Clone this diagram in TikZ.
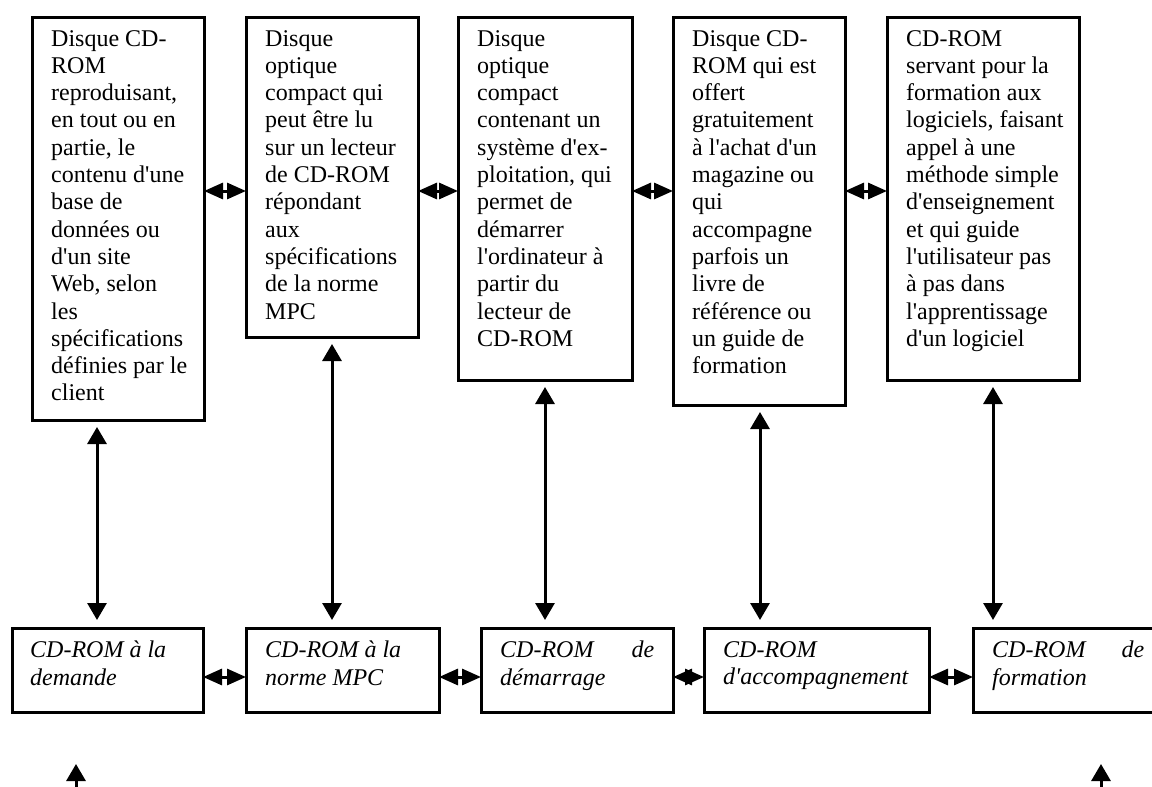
\documentclass[tikz,border=0pt]{standalone}
\usepackage{fontspec}
\setmainfont{Liberation Serif}
\usetikzlibrary{arrows.meta}
\newcommand\q{\textquotesingle}
\begin{document}
\begin{tikzpicture}[x=1pt,y=-1pt,
  panel/.style={draw, line width=3pt, anchor=north west, inner sep=0pt, outer sep=0pt},
  desc/.style={anchor=north west, align=left, inner sep=0pt,
    font=\fontsize{24}{27.3}\selectfont, execute at begin node=\strut},
  term/.style={desc, font=\fontsize{24}{27.3}\selectfont\itshape},
  vlink/.style={line width=3pt,
    {Triangle[length=17pt,width=19pt]}-{Triangle[length=17pt,width=19pt]},
    shorten <=7pt, shorten >=8pt},
  hlink/.style={line width=3pt,
    {Triangle[length=19pt,width=16pt]}-{Triangle[length=19pt,width=16pt]}},
  htip/.style={line width=3pt, -{Triangle[length=19pt,width=16pt]}},
  uplink/.style={line width=3pt, -{Triangle[length=17pt,width=19pt]}}
]
\useasboundingbox (0,0) rectangle (1152,787);
\clip (0,0) rectangle (1152,787);
\fill[white] (0,0) rectangle (1152,787);

% definitions (upper row)
\node[panel, minimum width=172, minimum height=403] (d1) at (32,17) {};
\node[panel, minimum width=172, minimum height=320] (d2) at (246,17) {};
\node[panel, minimum width=174, minimum height=363] (d3) at (458,17) {};
\node[panel, minimum width=172, minimum height=388] (d4) at (673,17) {};
\node[panel, minimum width=192, minimum height=363] (d5) at (887,17) {};

\node[desc] (d1t) at ([shift={(19,13)}]d1.north west)
  {Disque CD-\\ROM\\reproduisant,\\en tout ou en\\partie, le\\contenu d\q une\\base de\\données ou\\d\q un site\\Web, selon\\les\\spécifications\\définies par le\\client};
\node[desc] (d2t) at ([shift={(19,13)}]d2.north west)
  {Disque\\optique\\compact qui\\peut être lu\\sur un lecteur\\de CD-ROM\\répondant\\aux\\spécifications\\de la norme\\MPC};
\node[desc] (d3t) at ([shift={(19,13)}]d3.north west)
  {Disque\\optique\\compact\\contenant un\\système d\q ex-\\ploitation, qui\\permet de\\démarrer\\l\q ordinateur à\\partir du\\lecteur de\\CD-ROM};
\node[desc] (d4t) at ([shift={(19,13)}]d4.north west)
  {Disque CD-\\ROM qui est\\offert\\gratuitement\\à l\q achat d\q un\\magazine ou\\qui\\accompagne\\parfois un\\livre de\\référence ou\\un guide de\\formation};
\node[desc] (d5t) at ([shift={(19,13)}]d5.north west)
  {CD-ROM\\servant pour la\\formation aux\\logiciels, faisant\\appel à une\\méthode simple\\d\q enseignement\\et qui guide\\l\q utilisateur pas\\à pas dans\\l\q apprentissage\\d\q un logiciel};

% terms (lower row)
\node[panel, minimum width=191, minimum height=84] (m1) at (12,628) {};
\node[panel, minimum width=193, minimum height=84] (m2) at (246,628) {};
\node[panel, minimum width=192, minimum height=84] (m3) at (481,628) {};
\node[panel, minimum width=225, minimum height=84] (m4) at (704,628) {};
\node[panel, minimum width=190, minimum height=84] (m5) at (973,628) {};

\node[term] (m1t) at ([shift={(18,13)}]m1.north west) {CD-ROM à la\\demande};
\node[term] (m2t) at ([shift={(19,13)}]m2.north west) {CD-ROM à la\\norme MPC};
\node[term] (m3t) at ([shift={(19,13)}]m3.north west) {\hbox to 154pt{CD-ROM\hfill de}\\démarrage};
\node[term] (m4t) at ([shift={(19,13)}]m4.north west) {CD-ROM\\d\q accompagnement};
\node[term] (m5t) at ([shift={(19,13)}]m5.north west) {\hbox to 152pt{CD-ROM\hfill de}\\formation};

% guide coordinates for the connectors
\coordinate (v1) at (97,0);
\coordinate (v2) at (332,0);
\coordinate (v3) at (545,0);
\coordinate (v4) at (760,0);
\coordinate (v5) at (993,0);
\coordinate (hu) at (0,191);
\coordinate (hl) at (0,677);

% links between neighbours
\draw[hlink] (d1.east |- hu) -- (d2.west |- hu);
\draw[hlink] (d2.east |- hu) -- (d3.west |- hu);
\draw[hlink] (d3.east |- hu) -- (d4.west |- hu);
\draw[hlink] (d4.east |- hu) -- (d5.west |- hu);

\draw[hlink] (m1.east |- hl) -- (m2.west |- hl);
\draw[hlink] (m2.east |- hl) -- (m3.west |- hl);
% narrow gap: the two heads overlap
\coordinate (g3) at ([xshift=19pt]m3.east |- hl);
\coordinate (g4) at ([xshift=-19pt]m4.west |- hl);
\draw[htip] (g3) -- (m3.east |- hl);
\draw[htip] (g4) -- (m4.west |- hl);
\draw[hlink] (m4.east |- hl) -- (m5.west |- hl);

% links between rows
\draw[vlink] (d1.south -| v1) -- (m1.north -| v1);
\draw[vlink] (d2.south -| v2) -- (m2.north -| v2);
\draw[vlink] (d3.south -| v3) -- (m3.north -| v3);
\draw[vlink] (d4.south -| v4) -- (m4.north -| v4);
\draw[vlink] (d5.south -| v5) -- (m5.north -| v5);

% incoming arrows at the bottom
\coordinate (s1) at (76,800);
\coordinate (e1) at (76,764);
\coordinate (s2) at (1101,800);
\coordinate (e2) at (1101,764);
\draw[uplink] (s1) -- (e1);
\draw[uplink] (s2) -- (e2);
\end{tikzpicture}
\end{document}
